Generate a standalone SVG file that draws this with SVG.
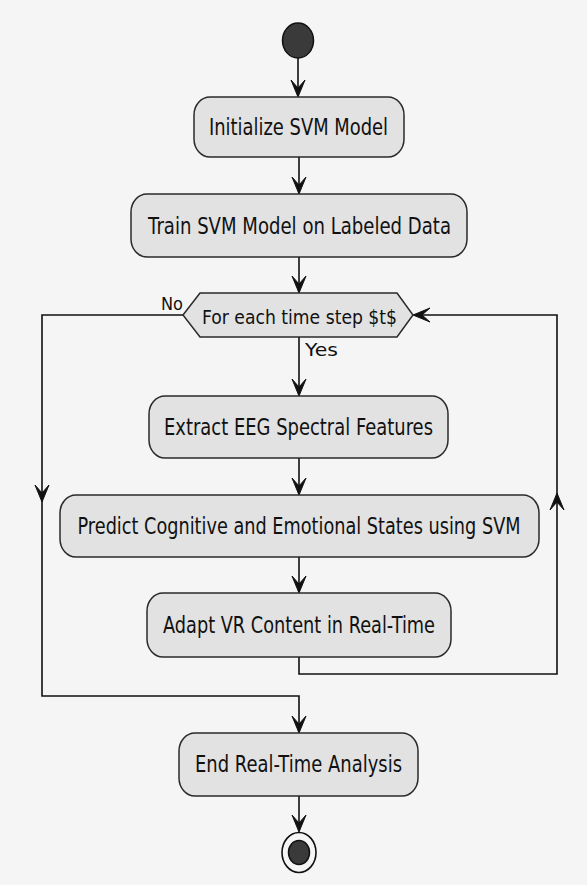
<svg xmlns="http://www.w3.org/2000/svg" width="587" height="885" viewBox="0 0 587 885">
<style>
.bg{fill:#f5f5f5}
.box{fill:#e2e2e2;stroke:#2a2a2a;stroke-width:1.5}
.t{font-family:"DejaVu Sans","Liberation Sans",sans-serif;font-size:23px;fill:#111;text-anchor:middle}
.ht{font-size:20px}
.pt{font-size:17.8px}
.lbl{font-family:"DejaVu Sans","Liberation Sans",sans-serif;font-size:17px;fill:#111}
.ln{fill:none;stroke:#111;stroke-width:1.6}
.ah{fill:#111;stroke:#111;stroke-width:1}
.dot{fill:#3a3a3a;stroke:#111;stroke-width:1.5}
</style>
<defs>
<path id="ah" d="M0,0 L-7,-17 L0,-9 L7,-17 Z"/>
</defs>
<rect class="bg" x="0" y="0" width="587" height="885"/>
<g id="connectors">
<path class="ln" d="M298,58 V96"/>
<path class="ln" d="M299,157 V193"/>
<path class="ln" d="M299,257 V292"/>
<path class="ln" d="M299,337 V395"/>
<path class="ln" d="M299,458 V494"/>
<path class="ln" d="M299,557 V592"/>
<path class="ln" d="M183,315 H42 V696 H299 V732"/>
<path class="ln" d="M299,657 V674 H557 V315 H414"/>
<path class="ln" d="M299,796 V831"/>
<use class="ah" href="#ah" transform="translate(298,97)"/>
<use class="ah" href="#ah" transform="translate(299,194)"/>
<use class="ah" href="#ah" transform="translate(299,293)"/>
<use class="ah" href="#ah" transform="translate(299,396)"/>
<use class="ah" href="#ah" transform="translate(299,495)"/>
<use class="ah" href="#ah" transform="translate(299,593)"/>
<use class="ah" href="#ah" transform="translate(299,733)"/>
<use class="ah" href="#ah" transform="translate(299,832)"/>
<use class="ah" href="#ah" transform="translate(42,502)"/>
<use class="ah" href="#ah" transform="translate(557,493) rotate(180)"/>
<use class="ah" href="#ah" transform="translate(413,315) rotate(90)"/>
<text class="lbl" x="161" y="310" textLength="22" lengthAdjust="spacingAndGlyphs">No</text>
<text class="lbl" x="305" y="356" textLength="33" lengthAdjust="spacingAndGlyphs">Yes</text>
</g>
<g id="start"><ellipse class="dot" cx="298" cy="40.5" rx="15.5" ry="17.5"/></g>
<g id="init">
<rect class="box" x="194" y="97" width="210" height="60" rx="16" ry="18"/>
<text class="t" x="298.5" y="135" textLength="179" lengthAdjust="spacingAndGlyphs">Initialize SVM Model</text>
</g>
<g id="train">
<rect class="box" x="131" y="194" width="336" height="63" rx="16" ry="18"/>
<text class="t" x="299.5" y="234" textLength="303" lengthAdjust="spacingAndGlyphs">Train SVM Model on Labeled Data</text>
</g>
<g id="loop">
<polygon class="box" points="183,315 200,293 397,293 413,315 397,337 200,337"/>
<text class="t ht" x="299.5" y="324" textLength="195" lengthAdjust="spacingAndGlyphs">For each time step $t$</text>
</g>
<g id="extract">
<rect class="box" x="149" y="396" width="299" height="62" rx="16" ry="18"/>
<text class="t" x="298.5" y="435" textLength="269" lengthAdjust="spacingAndGlyphs">Extract EEG Spectral Features</text>
</g>
<g id="predict">
<rect class="box" x="60" y="495" width="479" height="62" rx="16" ry="18"/>
<text class="t pt" x="0" y="0" transform="translate(299,534) scale(1,1.25)" textLength="443" lengthAdjust="spacingAndGlyphs">Predict Cognitive and Emotional States using SVM</text>
</g>
<g id="adapt">
<rect class="box" x="147" y="593" width="304" height="64" rx="16" ry="18"/>
<text class="t" x="299" y="633" textLength="272" lengthAdjust="spacingAndGlyphs">Adapt VR Content in Real-Time</text>
</g>
<g id="endact">
<rect class="box" x="179" y="733" width="239" height="63" rx="16" ry="18"/>
<text class="t" x="298.5" y="772" textLength="207" lengthAdjust="spacingAndGlyphs">End Real-Time Analysis</text>
</g>
<g id="stop">
<ellipse cx="299" cy="852.5" rx="17" ry="20" fill="none" stroke="#111" stroke-width="1.6"/>
<ellipse class="dot" cx="299" cy="852.5" rx="10.5" ry="12"/>
</g>
</svg>
